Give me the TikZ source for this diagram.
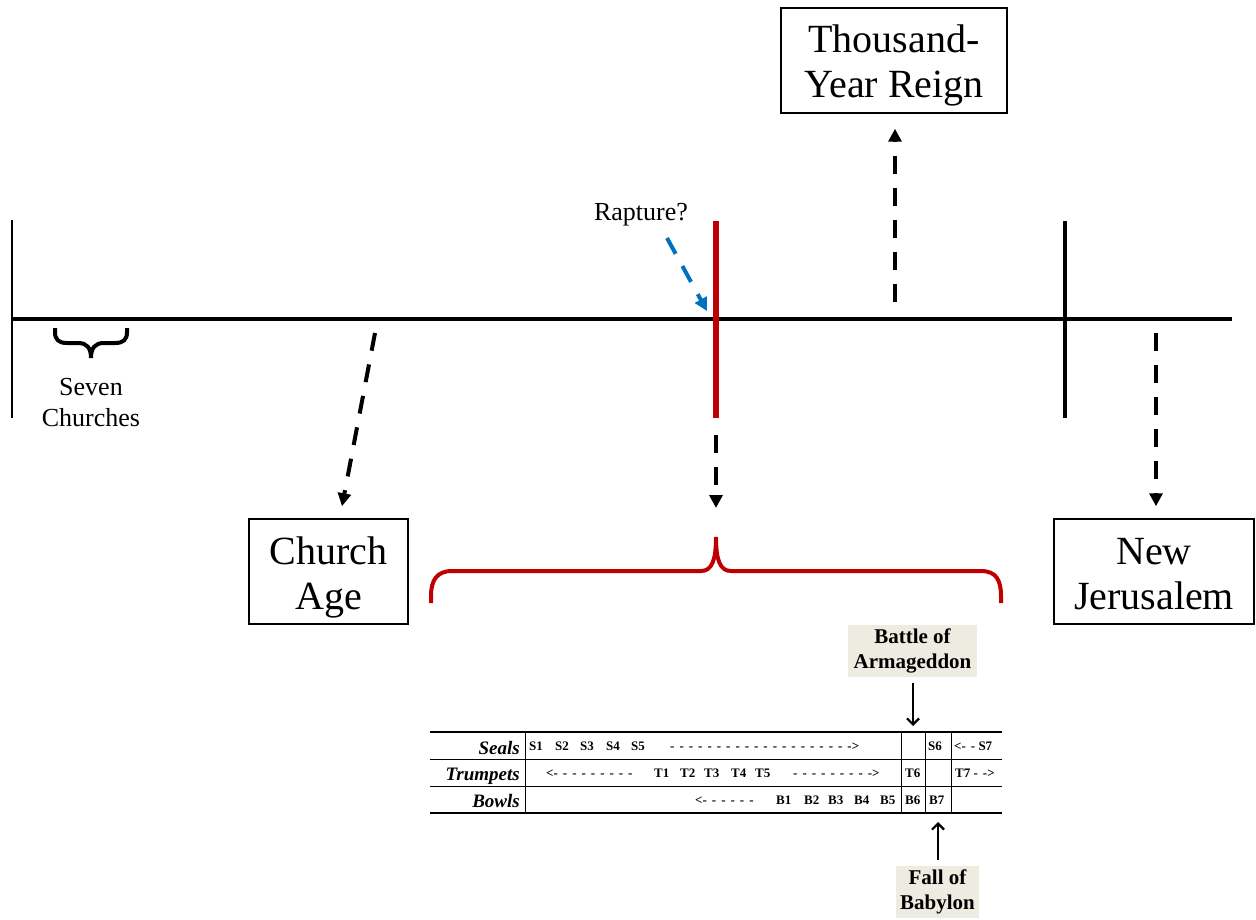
\documentclass[tikz,border=0pt]{standalone}
\usepackage{fontspec}
\setmainfont{Liberation Serif}
\usetikzlibrary{arrows.meta}
\definecolor{darkred}{HTML}{C00000}
\definecolor{rblue}{HTML}{0070C0}
\definecolor{beige}{HTML}{EEECE1}
\newcommand\dashes[1]{-\foreach \k in {2,...,#1}{\hspace{5pt}-}}
\newcommand\lowered[2]{\raisebox{-#1}[\height][\depth]{\begin{tabular}{@{}c@{}}#2\end{tabular}}}
\begin{document}
\begin{tikzpicture}[x=1pt,y=-1pt,
  bigbox/.style={draw, line width=1.5pt, inner sep=0pt,
    font=\fontsize{40}{45}\selectfont, minimum height=105pt},
  dasharrow/.style={line width=4pt, dash pattern=on 18pt off 14pt,
    -{Triangle[length=13pt,width=13pt]}},
  thinarrow/.style={line width=2.2pt, -{Straight Barb[length=6pt,width=12pt]}},
  annot/.style={fill=beige, align=center, inner sep=0pt,
    font=\fontsize{21}{25}\selectfont\bfseries, minimum height=52pt},
  cell/.style={font=\fontsize{13}{15}\selectfont\bfseries, inner sep=0pt, anchor=base west},
  lab/.style={font=\fontsize{19}{22}\selectfont\bfseries\itshape, inner sep=0pt, anchor=base east},
  plain/.style={align=center, inner sep=0pt, font=\fontsize{26}{31}\selectfont}]
\useasboundingbox (0,0) rectangle (1256,920);

% timeline
\coordinate (tl) at (12,319);
\coordinate (tr) at (1232,319);
\coordinate (lt) at (12,220);
\coordinate (lb) at (12,418);
\coordinate (rt) at (716,221);
\coordinate (rb) at (716,418);
\coordinate (nt) at (1065,221);
\coordinate (nb) at (1065,418);
\draw[line width=4pt] (tl) -- (tr);
\draw[line width=2pt] (lt) -- (lb);
\draw[darkred, line width=6pt] (rt) -- (rb);
\draw[line width=3.5pt] (nt) -- (nb);

% small brace
\draw[line width=4pt] (55,328) -- (55,332) .. controls (55,340) and (59,343) .. (67,343) -- (78,343)
  .. controls (87,343) and (91,348) .. (91,358) .. controls (91,348) and (95,343) .. (104,343)
  -- (115,343) .. controls (123,343) and (127,340) .. (127,332) -- (127,328);
\node[plain] (seven) at (91,403) {Seven\\Churches};

% boxes
\node[bigbox, minimum width=226pt] (tyr) at (894,60.5) {\lowered{6pt}{Thousand-\\Year Reign}};
\node[bigbox, minimum width=159pt] (ca) at (328.5,571.5) {\lowered{6pt}{Church\\Age}};
\node[bigbox, minimum width=200pt] (nj) at (1154,571.5) {\lowered{6pt}{New\\Jerusalem}};

% rapture
\node[plain, anchor=base] (rap) at (641,221) {Rapture?};
\coordinate (rapS) at (667,238);
\draw[rblue, dasharrow] (rapS) -- ([shift={(-9,-8)}]tl -| rt);

% dashed arrows
\coordinate (caS) at (375,333);
\draw[dasharrow] (caS) -- ([shift={(13.5,-12)}]ca.north);
\coordinate (tyS) at (895,302);
\draw[dasharrow] (tyS) -- ([shift={(1,15)}]tyr.south);
\coordinate (njS) at (1156,333);
\draw[dasharrow] (njS) -- ([shift={(2,-12)}]nj.north);
\coordinate (bt) at (716,537);
\draw[dasharrow] ([shift={(0,17)}]rb) -- ([shift={(0,-29)}]bt);

% red brace
\draw[darkred, line width=4pt] (431,603) -- (431,596) .. controls (431,580) and (437,571) .. (452,571)
  -- (701,571) .. controls (712,571) and (716,560) .. (bt) .. controls (716,560) and (720,571) .. (731,571)
  -- (981,571) .. controls (996,571) and (1001,580) .. (1001,596) -- (1001,603);

% table
\draw[line width=1.3pt] (430,732) -- (1002,732);
\draw[line width=0.7pt] (430,759) -- (1002,759);
\draw[line width=0.7pt] (430,786) -- (1002,786);
\draw[line width=1.3pt] (430,813) -- (1002,813);
\foreach \xx in {525,901,925,951} \draw[line width=0.8pt] (\xx,732) -- (\xx,813);

\node[lab] (lseals) at (520,754) {Seals};
\node[lab] (ltrump) at (520,780) {Trumpets};
\node[lab] (lbowls) at (520,807) {Bowls};

\node[cell] (s1) at (529,750) {S1};
\node[cell] (s2) at (555,750) {S2};
\node[cell] (s3) at (580,750) {S3};
\node[cell] (s4) at (606,750) {S4};
\node[cell] (s5) at (631,750) {S5};
\node[cell] (sd) at (670,750) {\dashes{20}>};
\node[cell] (s6) at (928,750) {S6};
\node[cell] (s7) at (954,750) {<\dashes{2} S7};

\node[cell] (tdl) at (546,777) {<\dashes{9}};
\node[cell] (t1) at (654,777) {T1};
\node[cell] (t2) at (680,777) {T2};
\node[cell] (t3) at (704,777) {T3};
\node[cell] (t4) at (731,777) {T4};
\node[cell] (t5) at (755,777) {T5};
\node[cell] (tdr) at (793,777) {\dashes{9}>};
\node[cell] (t6) at (905,777) {T6};
\node[cell] (t7) at (955,777) {T7 \dashes{2}>};

\node[cell] (bdl) at (695,804) {<\dashes{6}};
\node[cell] (b1) at (776,804) {B1};
\node[cell] (b2) at (804,804) {B2};
\node[cell] (b3) at (828,804) {B3};
\node[cell] (b4) at (854,804) {B4};
\node[cell] (b5) at (880,804) {B5};
\node[cell] (b6) at (905,804) {B6};
\node[cell] (b7) at (929,804) {B7};

% annotations
\coordinate (colA) at (913,732);
\coordinate (colB) at (938,813);
\node[annot, minimum width=129pt] (bat) at (912.5,651) {Battle of\\Armageddon};
\node[annot, minimum width=83pt] (fall) at (937.5,892) {Fall of\\Babylon};
\draw[thinarrow] ([shift={(0.5,6)}]bat.south) -- ([shift={(0,-6)}]colA);
\draw[thinarrow] ([shift={(0.5,-6)}]fall.north) -- ([shift={(0,9)}]colB);
\end{tikzpicture}
\end{document}
